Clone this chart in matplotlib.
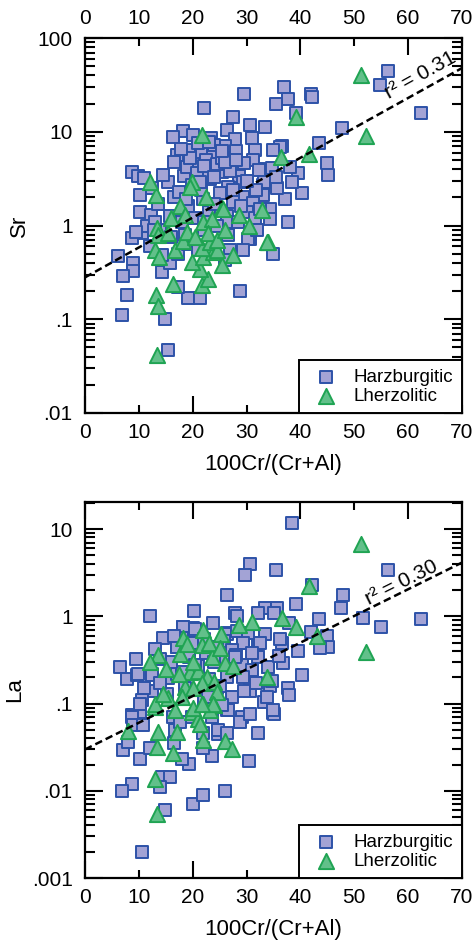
import numpy as np
import matplotlib
matplotlib.use("Agg")
import matplotlib.pyplot as plt
from matplotlib.ticker import FixedLocator, FixedFormatter, LogLocator, NullFormatter

plt.rcParams['font.family'] = ['Liberation Sans', 'DejaVu Sans']

# Sr panel - harzburgitic (x = 100Cr/(Cr+Al), y = Sr)
sr_harz_x = [56.3, 54.8, 62.4, 37.0, 37.7, 35.5, 42.0, 42.2, 39.2, 30.6, 33.4, 47.7, 43.4, 36.6, 44.9,
             45.1, 39.5, 40.3, 37.1, 34.3, 34.3, 37.7, 30.6, 30.6, 34.9, 28.8, 22.1, 18.2, 16.4, 20.0,
             23.4, 26.4, 27.5, 8.7, 9.9, 29.5, 27.8, 31.0, 19.3, 17.1, 21.7, 23.8, 27.1, 31.6, 36.2,
             32.7, 23.2, 25.4, 28.6, 18.4, 15.4, 19.9, 23.2, 26.6, 33.0, 35.6, 10.2, 16.5, 21.9, 29.3,
             33.0, 10.2, 15.8, 26.4, 12.3, 19.1, 10.6, 8.7, 6.1, 8.9, 8.9, 7.0, 7.8, 6.9, 14.9,
             15.4, 14.3, 15.8, 14.3, 19.1, 21.4, 17.3, 26.4, 28.4, 30.3, 26.9, 29.3, 26.0, 17.3, 19.1,
             31.2, 34.9, 32.3, 34.7, 38.1, 29.3, 33.2, 38.4, 31.2, 20.5, 22.5, 24.5, 26.0, 21.0,
             24.0, 28.0, 29.5, 25.0, 27.5, 23.0, 20.5, 18.0, 24.5, 30.0, 31.5, 21.5, 17.5, 13.5,
             11.5, 14.0, 16.0, 12.0, 22.0, 32.0, 27.0, 19.0, 16.5, 14.5, 12.5, 11.0, 13.0, 9.5,
             35.5, 31.8, 25.5, 22.8, 18.8, 20.8, 20.8, 22.0, 24.0, 26.0, 28.0, 30.0, 25.5, 23.0,
             19.5, 17.8, 21.3, 27.5, 29.0, 24.0, 22.0, 32.5, 26.5, 21.0, 12.8, 18.5]
sr_harz_y = [45, 31.6, 16, 30, 22.4, 20, 25, 23.5, 16, 11.8, 11.3, 11, 7.6, 7.1, 4.7,
             3.5, 3.6, 2.2, 1.9, 1.5, 1.16, 1.08, 0.84, 0.71, 0.5, 0.2, 18, 10.2, 8.9, 9.3,
             8.6, 10.5, 14.4, 3.7, 3.4, 25, 8.4, 8.6, 6.4, 5.7, 5.8, 6.0, 5.5, 6.4, 6.9,
             4.0, 4.0, 3.75, 3.4, 3.4, 2.9, 2.7, 3.1, 2.6, 2.7, 2.5, 2.1, 2.0, 1.9, 2.0,
             2.1, 1.4, 1.25, 1.25, 1.3, 1.6, 0.84, 0.74, 0.47, 0.4, 0.33, 0.29, 0.18, 0.11, 0.1,
             0.047, 0.32, 0.4, 0.49, 0.17, 0.17, 0.22, 1.1, 1.1, 0.71, 0.55, 0.55, 0.43, 0.5, 0.63,
             5.0, 6.4, 3.9, 4.1, 4.2, 2.9, 2.9, 2.9, 1.75, 4.5, 5.0, 4.5, 7.0, 7.5,
             7.2, 6.2, 4.6, 2.2, 1.8, 1.4, 1.2, 1.1, 1.0, 1.4, 1.2, 2.4, 2.3, 1.7,
             1.0, 0.9, 0.75, 0.6, 0.9, 0.9, 3.8, 4.2, 4.8, 3.5, 2.5, 3.2, 1.1, 0.85,
             3.3, 2.4, 5.2, 3.3, 1.9, 2.9, 3.6, 4.3, 3.3, 4.8, 5.0, 3.0, 6.3, 7.8,
             5.2, 6.6, 2.9, 2.4, 1.6, 1.7, 1.1, 1.5, 0.8, 0.55, 0.9, 0.8]

# Sr panel - lherzolitic
sr_lherz_x = [51.2, 52.2, 39.2, 41.6, 36.4, 34.0, 21.7, 13.2, 17.6, 19.9, 25.4, 12.1, 13.4, 13.6,
              13.0, 13.8, 13.2, 13.6, 13.4, 16.3, 21.7, 22.8, 21.4, 25.4, 19.9, 21.9, 23.8, 16.7,
              18.2, 21.7, 23.2, 15.4, 18.9, 21.9, 23.6, 25.6, 22.8, 33.8, 24.5, 27.5, 32.9, 19.5,
              18.5, 24.5, 20.5, 28.5, 30.5, 26.0, 22.5, 16.0]
sr_lherz_y = [40, 9.1, 14.4, 5.8, 5.4, 0.66, 9.3, 2.1, 1.6, 2.9, 1.55, 2.9, 0.95, 0.8,
              0.55, 0.46, 0.18, 0.14, 0.042, 0.235, 0.23, 0.27, 0.34, 0.38, 0.41, 0.46, 0.52, 0.55,
              0.68, 0.58, 0.66, 0.84, 0.86, 1.08, 1.16, 1.5, 0.84, 0.66, 0.55, 0.49, 1.48, 2.6,
              1.3, 0.7, 0.75, 1.3, 1.0, 0.9, 2.0, 1.2]

# La panel - harzburgitic
la_harz_x = [38.4, 30.6, 29.7, 35.5, 56.3, 42.1, 47.9, 47.5, 39.2, 33.4, 35.6, 51.6, 55.0, 62.4,
             43.4, 37.9, 42.0, 44.9, 45.1, 43.6, 39.5, 36.6, 32.1, 29.3, 40.3, 36.8, 34.0, 37.7,
             37.9, 34.3, 33.2, 30.6, 34.9, 26.4, 27.8, 12.1, 20.2, 23.8, 18.2, 20.0, 26.4, 20.0,
             17.0, 19.1, 6.5, 7.8, 9.6, 12.4, 15.4, 17.0, 28.2, 32.1, 35.0, 18.2, 20.5, 26.4,
             28.2, 30.2, 33.4, 36.2, 14.5, 18.0, 19.9, 17.0, 25.8, 29.3, 32.4, 27.3, 32.1, 19.3,
             9.8, 12.4, 18.0, 25.1, 29.1, 34.0, 31.0, 26.4, 29.3, 34.7, 12.4, 15.2, 24.5, 27.3,
             30.6, 33.8, 10.6, 8.7, 10.2, 26.4, 29.1, 35.1, 23.6, 19.9, 16.3, 10.2, 8.7, 8.9,
             10.8, 7.0, 10.2, 12.1, 8.0, 14.3, 15.8, 13.9, 8.7, 6.9, 14.9, 20.0, 21.9, 26.0,
             19.3, 18.0, 16.5, 16.7, 17.6, 21.9, 23.6, 21.9, 24.7, 26.6, 28.8, 30.6, 32.1, 34.9,
             30.4, 24.7, 26.4, 10.6, 22.5, 24.0, 21.0, 23.0, 25.0, 28.0, 22.0, 16.0, 14.0,
             22.0, 24.5, 20.5, 27.8, 31.0, 16.5, 18.5, 22.8, 29.5, 31.8, 25.5, 36.0, 14.0, 11.0,
             9.5, 13.0]
la_harz_y = [11.8, 4.0, 2.94, 3.35, 3.35, 2.3, 1.74, 1.23, 1.4, 1.23, 1.23, 0.95, 0.75, 0.92,
             0.92, 0.83, 0.66, 0.59, 0.45, 0.43, 0.4, 0.5, 0.48, 0.5, 0.21, 0.29, 0.26, 0.15,
             0.125, 0.16, 0.104, 0.18, 0.078, 1.74, 1.1, 1.0, 1.14, 0.83, 0.75, 0.74, 0.64, 0.49,
             0.44, 0.36, 0.26, 0.19, 0.21, 0.22, 0.195, 0.22, 1.0, 1.1, 1.1, 0.75, 0.72, 0.63,
             0.68, 0.65, 0.62, 0.55, 0.56, 0.56, 0.49, 0.44, 0.52, 0.5, 0.5, 0.41, 0.34, 0.34,
             0.22, 0.21, 0.23, 0.3, 0.28, 0.26, 0.24, 0.2, 0.2, 0.18, 0.14, 0.13, 0.15, 0.12,
             0.14, 0.12, 0.11, 0.074, 0.08, 0.084, 0.07, 0.075, 0.07, 0.07, 0.07, 0.1, 0.07, 0.057,
             0.057, 0.029, 0.023, 0.031, 0.036, 0.0145, 0.0145, 0.011, 0.012, 0.01, 0.006, 0.0071, 0.009, 0.01,
             0.0204, 0.023, 0.035, 0.05, 0.061, 0.046, 0.025, 0.031, 0.045, 0.085, 0.062, 0.075, 0.046, 0.085,
             0.022, 0.05, 0.046, 0.002, 0.38, 0.3, 0.27, 0.19, 0.16, 0.36, 0.11, 0.3, 0.32,
             0.55, 0.45, 0.28, 0.34, 0.38, 0.6, 0.15, 0.12, 0.14, 0.17, 0.095, 0.35, 0.17, 0.15,
             0.32, 0.42]

# La panel - lherzolitic
la_lherz_x = [51.2, 41.6, 52.2, 31.0, 36.6, 39.2, 28.5, 21.9, 18.2, 13.6, 12.1, 17.6, 21.7, 23.6,
              26.0, 19.5, 21.0, 22.7, 21.7, 24.0, 18.6, 20.1, 24.5, 15.4, 18.0, 21.9, 24.0, 13.0,
              16.7, 19.9, 23.2, 33.8, 13.0, 8.0, 13.6, 13.4, 16.3, 17.0, 13.0, 13.4, 21.0, 21.4,
              21.9, 26.0, 27.3, 20.1, 23.8, 21.7, 25.2, 27.5, 43.0, 15.0, 17.5, 23.0, 25.0, 19.0,
              14.5, 20.0]
la_lherz_y = [6.8, 2.2, 0.39, 0.85, 0.95, 0.75, 0.8, 0.69, 0.56, 0.36, 0.3, 0.37, 0.47, 0.34,
              0.29, 0.23, 0.235, 0.2, 0.17, 0.175, 0.155, 0.15, 0.135, 0.116, 0.12, 0.1, 0.095, 0.091,
              0.085, 0.08, 0.085, 0.2, 0.1, 0.048, 0.047, 0.032, 0.027, 0.047, 0.0135, 0.0054, 0.066, 0.058,
              0.038, 0.037, 0.03, 0.09, 0.1, 0.1, 0.62, 0.27, 0.6, 0.25, 0.22, 0.5, 0.43, 0.48,
              0.13, 0.3]

# regression lines: log10(y) = a + b*x
sr_fit = (-0.553, 0.0319)
la_fit = (-1.526, 0.0306)
sr_r2 = "0.31"
la_r2 = "0.30"

x_major = [0, 20, 40, 60]
x_minor = [10, 30, 50, 70]

sq_face, sq_edge = '#a3a3d5', '#2d52a8'
tr_face, tr_edge = '#62c08a', '#1fa453'


def panel(ax, hx, hy, lx, ly, fit, r2, ylim, ylabels, yname, r2_pos, r2_rot, toplabels):
    ax.scatter(hx, hy, marker='s', s=85, facecolor=sq_face, edgecolor=sq_edge,
               linewidths=1.4, zorder=3, label='Harzburgitic')
    ax.scatter(lx, ly, marker='^', s=120, facecolor=tr_face, edgecolor=tr_edge,
               linewidths=1.4, zorder=4, label='Lherzolitic')
    xx = np.array([0, 70])
    ax.plot(xx, 10 ** (fit[0] + fit[1] * xx), color='black', ls=(0, (3, 1.6)), lw=1.8, zorder=5)
    ax.text(r2_pos[0], r2_pos[1], 'r\u00b2 = ' + r2, rotation=r2_rot, fontsize=15,
            ha='center', va='center', zorder=6)

    ax.set_yscale('log')
    ax.set_xlim(0, 70)
    ax.set_ylim(*ylim)

    ax.xaxis.set_major_locator(FixedLocator(x_major))
    ax.xaxis.set_minor_locator(FixedLocator(x_minor))
    ax.xaxis.set_major_formatter(FixedFormatter([str(v) for v in x_major]))
    ax.xaxis.set_minor_formatter(FixedFormatter([str(v) for v in x_minor]))
    ax.tick_params(axis='x', which='both', direction='in', top=True, bottom=True,
                   labeltop=toplabels, labelsize=15, pad=7, width=1.5)
    ax.tick_params(axis='x', which='major', length=12)
    ax.tick_params(axis='x', which='minor', length=6)

    decades = [10.0 ** k for k in range(int(np.log10(ylim[0])), 3)]
    ax.yaxis.set_major_locator(FixedLocator(decades[:len(ylabels)]))
    ax.yaxis.set_major_formatter(FixedFormatter(ylabels))
    ax.yaxis.set_minor_locator(LogLocator(base=10, subs=np.arange(2, 10), numticks=20))
    ax.yaxis.set_minor_formatter(NullFormatter())
    ax.tick_params(axis='y', which='both', direction='in', left=True, right=True,
                   labelsize=15, pad=9, width=1.5)
    ax.tick_params(axis='y', which='major', length=13)
    ax.tick_params(axis='y', which='minor', length=7)

    for s in ax.spines.values():
        s.set_linewidth(1.6)

    ax.set_xlabel('100Cr/(Cr+Al)', fontsize=16, labelpad=9)
    ax.set_ylabel(yname, fontsize=16, labelpad=5)

    leg = ax.legend(loc='lower right', fontsize=13.5, frameon=True, fancybox=False,
                    borderaxespad=0, framealpha=1, handletextpad=0.5,
                    borderpad=0.45, labelspacing=0.1, scatterpoints=1)
    leg.get_frame().set_edgecolor('black')
    leg.get_frame().set_linewidth(1.4)


fig = plt.figure(figsize=(4.75, 9.44), dpi=100)
ax1 = fig.add_axes([0.179, 0.5625, 0.7937, 0.3972])
ax2 = fig.add_axes([0.179, 0.0699, 0.7937, 0.3983])

panel(ax1, sr_harz_x, sr_harz_y, sr_lherz_x, sr_lherz_y, sr_fit, sr_r2,
      (0.01, 100), ['.01', '.1', '1', '10', '100'], 'Sr', (62.2, 40), 29, True)
panel(ax2, la_harz_x, la_harz_y, la_lherz_x, la_lherz_y, la_fit, la_r2,
      (0.001, 20.4), ['.001', '.01', '.1', '1', '10'], 'La', (58.7, 2.45), 26.5, False)

fig.savefig('out.png', dpi=100)
